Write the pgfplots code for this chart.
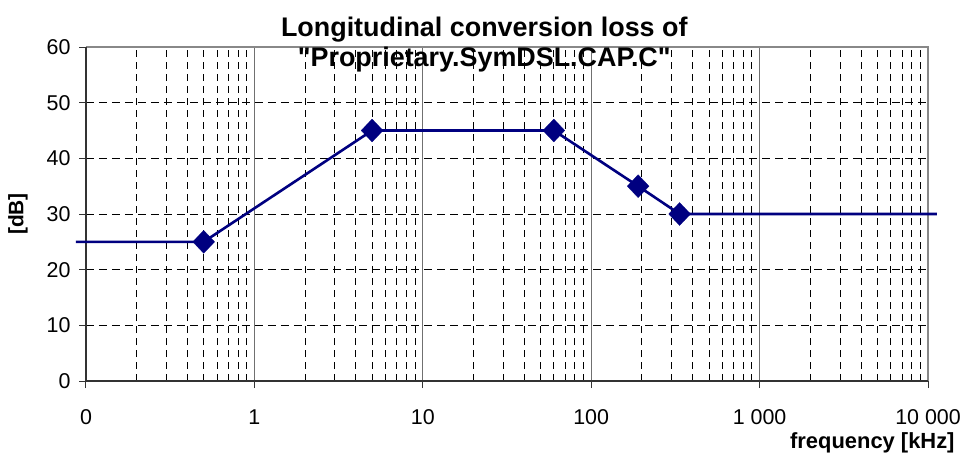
\documentclass[border=0pt]{standalone}
\usepackage{fontspec}
\setmainfont{Liberation Sans}[Ligatures=TeXOff]
\usepackage{pgfplots}
\pgfplotsset{compat=1.18}
\definecolor{navyline}{HTML}{000080}
\definecolor{framegray}{HTML}{888888}
\definecolor{framedark}{HTML}{333333}
\definecolor{gridgray}{HTML}{707070}
\begin{document}
\begin{tikzpicture}
\path[use as bounding box] (-86bp,-72bp) rectangle (876bp,381bp);
\begin{axis}[
  at={(0,0)}, anchor=south west,
  scale only axis, width=842bp, height=334bp,
  xmode=log, xmin=0.1, xmax=10000, ymin=0, ymax=60,
  xtick={0.1,1,10,100,1000,10000},
  xticklabels={0,1,10,100,{1 000},{10 000}},
  minor xtick={0.2,0.3,0.4,0.5,0.6,0.7,0.8,0.9,2,3,4,5,6,7,8,9,20,30,40,50,60,70,80,90,200,300,400,500,600,700,800,900,2000,3000,4000,5000,6000,7000,8000,9000},
  ytick={0,10,20,30,40,50,60},
  tick align=outside, xtick pos=bottom, ytick pos=left,
  major tick length=7bp, minor tick length=0bp,
  tick style={framedark, line width=1bp},
  axis line style={draw=none},
  xmajorgrids, xminorgrids, ymajorgrids,
  major x grid style={gridgray, line width=1bp, solid},
  minor x grid style={black, line width=0.8bp, dash pattern=on 7bp off 5bp},
  major y grid style={black, line width=0.8bp, dash pattern=on 8bp off 5bp},
  tick label style={font=\fontsize{21.5}{25}\selectfont},
  xticklabel style={yshift=-18bp},
  yticklabel style={xshift=-5bp},
  /pgf/number format/assume math mode=true,
  title={Longitudinal conversion loss of\\"Proprietary.SymDSL.CAP.C"},
  title style={font=\bfseries\fontsize{27}{31}\selectfont, align=center, at={(rel axis cs:0.473,0.9895)}, anchor=center},
  xlabel={frequency [kHz]},
  xlabel style={font=\bfseries\fontsize{22}{26}\selectfont, at={(rel axis cs:1.0357,-0.1856)}, anchor=east},
  ylabel={[dB]},
  ylabel style={font=\bfseries\fontsize{21}{25}\selectfont, at={(rel axis cs:-0.0808,0.5)}, anchor=center},
  clip=false,
]
\draw[framegray, line width=2.5bp] (rel axis cs:0,1) -- (rel axis cs:1,1) -- (rel axis cs:1,0);
\draw[framedark, line width=1.5bp] (rel axis cs:0,1) -- (rel axis cs:0,0) -- (rel axis cs:1,0);
\addplot[navyline, line width=2.6bp, mark=diamond*, mark size=11.5bp, mark indices={2,3,4,5,6},
  mark options={solid, fill=navyline, draw=navyline, xscale=1.27, line width=0.2bp}]
  coordinates {(0.0872,25) (0.5,25) (5,45) (60,45) (190,35) (335,30) (11300,30)};
\end{axis}
\end{tikzpicture}
\end{document}
